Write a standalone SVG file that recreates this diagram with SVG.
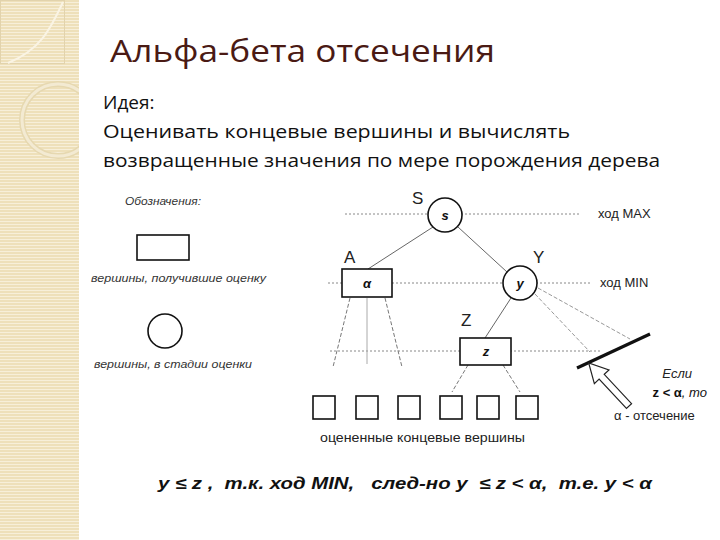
<svg xmlns="http://www.w3.org/2000/svg" width="720" height="540" viewBox="0 0 720 540">
<defs>
<pattern id="stripes" width="4" height="3" patternUnits="userSpaceOnUse">
<rect width="4" height="3" fill="#EEE0BA"/>
<rect y="2" width="4" height="1" fill="#F7EFD9"/>
</pattern>
<clipPath id="band"><rect x="0" y="0" width="79" height="540"/></clipPath>
<style>
.body{font-family:"Open Sans","Noto Sans",sans-serif;font-size:19px;fill:#111}
.lg{font-family:"Liberation Sans",Arial,sans-serif;font-style:italic;font-size:11px;fill:#333}
.lab{font-family:"Liberation Sans",Arial,sans-serif;font-size:17px;fill:#222}
.side{font-family:"Liberation Sans",Arial,sans-serif;font-size:13px;fill:#222}
.nt{font-family:"Liberation Sans",Arial,sans-serif;font-weight:bold;font-style:italic;font-size:13px;fill:#111;text-anchor:middle}
.node{fill:#fff;stroke:#111;stroke-width:1.6}
.lev{stroke:#888;stroke-width:1;stroke-dasharray:2 2;fill:none}
.edge{stroke:#666;stroke-width:1;fill:none}
.dash{stroke:#777;stroke-width:1;stroke-dasharray:4 2;fill:none}
.ldash{stroke:#999;stroke-width:1;stroke-dasharray:4 2;fill:none}
</style>
</defs>
<rect width="720" height="540" fill="#fff"/>
<g id="decor">
<rect x="0" y="0" width="79" height="540" fill="url(#stripes)"/>
<rect x="0.5" y="0.5" width="64" height="63" fill="none" stroke="#E2D3AC" stroke-width="1"/>
<path d="M63,2 C50,30 40,50 8,63" fill="none" stroke="#FAF4E4" stroke-width="2"/>
<g clip-path="url(#band)">
<circle cx="58" cy="120" r="36" fill="none" stroke="#E6D8B0" stroke-width="6"/>
<circle cx="58" cy="120" r="36" fill="none" stroke="#F3EAD2" stroke-width="3"/>
</g>
</g>
<g id="title">
<text x="110" y="62" font-family="'Open Sans','Noto Sans',sans-serif" font-size="31" fill="#4A1A14" textLength="385" lengthAdjust="spacingAndGlyphs">Альфа-бета отсечения</text>
</g>
<g id="idea">
<text class="body" x="103" y="109">Идея:</text>
<text class="body" x="103" y="138" textLength="467" lengthAdjust="spacingAndGlyphs">Оценивать концевые вершины и вычислять</text>
<text class="body" x="103" y="167" textLength="557" lengthAdjust="spacingAndGlyphs">возвращенные значения по мере порождения дерева</text>
</g>
<g id="legend">
<text class="lg" x="125" y="205" textLength="76" lengthAdjust="spacingAndGlyphs">Обозначения:</text>
<rect class="node" x="137" y="235" width="52" height="25"/>
<text class="lg" x="91" y="282" textLength="175" lengthAdjust="spacingAndGlyphs">вершины, получившие оценку</text>
<circle class="node" cx="165" cy="331" r="17"/>
<text class="lg" x="94" y="368" textLength="158" lengthAdjust="spacingAndGlyphs">вершины, в стадии оценки</text>
</g>
<g id="levels">
<line class="lev" x1="345" y1="214" x2="580" y2="214"/>
<line class="lev" x1="328" y1="283" x2="590" y2="283"/>
<line class="lev" x1="330" y1="351" x2="602" y2="351"/>
</g>
<g id="connectors">
<line class="edge" x1="433" y1="227" x2="368" y2="269"/>
<line class="edge" x1="458" y1="227" x2="507" y2="272"/>
<line class="dash" x1="350" y1="298" x2="333" y2="367"/>
<line x1="367" y1="298" x2="367" y2="364" stroke="#aaa" stroke-width="1"/>
<line class="dash" x1="385" y1="298" x2="402" y2="367"/>
<line class="edge" x1="511" y1="298" x2="485" y2="338"/>
<line class="dash" x1="468" y1="365" x2="452" y2="392"/>
<line class="dash" x1="503" y1="365" x2="520" y2="392"/>
<line class="ldash" x1="538" y1="288" x2="630" y2="339"/>
<line class="ldash" x1="535" y1="294" x2="590" y2="352"/>
</g>
<g id="node-S">
<circle class="node" cx="445" cy="215" r="17"/>
<text class="nt" x="445" y="220">s</text>
<text class="lab" x="412" y="204">S</text>
</g>
<g id="node-A">
<rect class="node" x="342" y="269" width="50" height="28"/>
<text class="nt" x="367" y="288">α</text>
<text class="lab" x="344" y="263">A</text>
</g>
<g id="node-Y">
<circle class="node" cx="520" cy="283" r="17"/>
<text class="nt" x="520" y="288">y</text>
<text class="lab" x="533" y="263">Y</text>
</g>
<g id="node-Z">
<rect class="node" x="460" y="338" width="51" height="27"/>
<text class="nt" x="486" y="356">z</text>
<text class="lab" x="461" y="326">Z</text>
</g>
<g id="leaves">
<rect class="node" x="313" y="396" width="22" height="23"/>
<rect class="node" x="356" y="396" width="22" height="23"/>
<rect class="node" x="398" y="396" width="22" height="23"/>
<rect class="node" x="440" y="396" width="22" height="23"/>
<rect class="node" x="477" y="396" width="22" height="23"/>
<rect class="node" x="516" y="396" width="22" height="23"/>
<text class="side" x="320" y="442" textLength="205" lengthAdjust="spacingAndGlyphs">оцененные концевые вершины</text>
</g>
<g id="side-labels">
<text class="side" x="598" y="218">ход MAX</text>
<text class="side" x="600" y="287">ход MIN</text>
</g>
<g id="cutoff">
<line x1="577" y1="368" x2="650" y2="334" stroke="#111" stroke-width="3.2"/>
<polygon points="0,-3.5 40,-3.5 40,-10 59,0 40,10 40,3.5 0,3.5" transform="translate(629,406) rotate(226.9)" fill="#fff" stroke="#222" stroke-width="1.2"/>
<text x="692" y="378" font-family="'Liberation Sans',Arial,sans-serif" font-style="italic" font-size="13" fill="#222" text-anchor="end">Если</text>
<text x="707" y="397" font-family="'Liberation Sans',Arial,sans-serif" font-size="13" fill="#111" text-anchor="end"><tspan font-weight="bold">z &lt; α</tspan><tspan font-style="italic">, то</tspan></text>
<text x="614" y="420" font-family="'Liberation Sans',Arial,sans-serif" font-size="13" fill="#222">α - отсечение</text>
</g>
<g id="conclusion">
<text x="158" y="489" font-family="'Liberation Sans',Arial,sans-serif" font-weight="bold" font-style="italic" font-size="16" fill="#111" textLength="494" lengthAdjust="spacingAndGlyphs" xml:space="preserve">y ≤ z ,  т.к. ход MIN,   след-но y  ≤ z &lt; α,  т.е. y &lt; α</text>
</g>
</svg>
